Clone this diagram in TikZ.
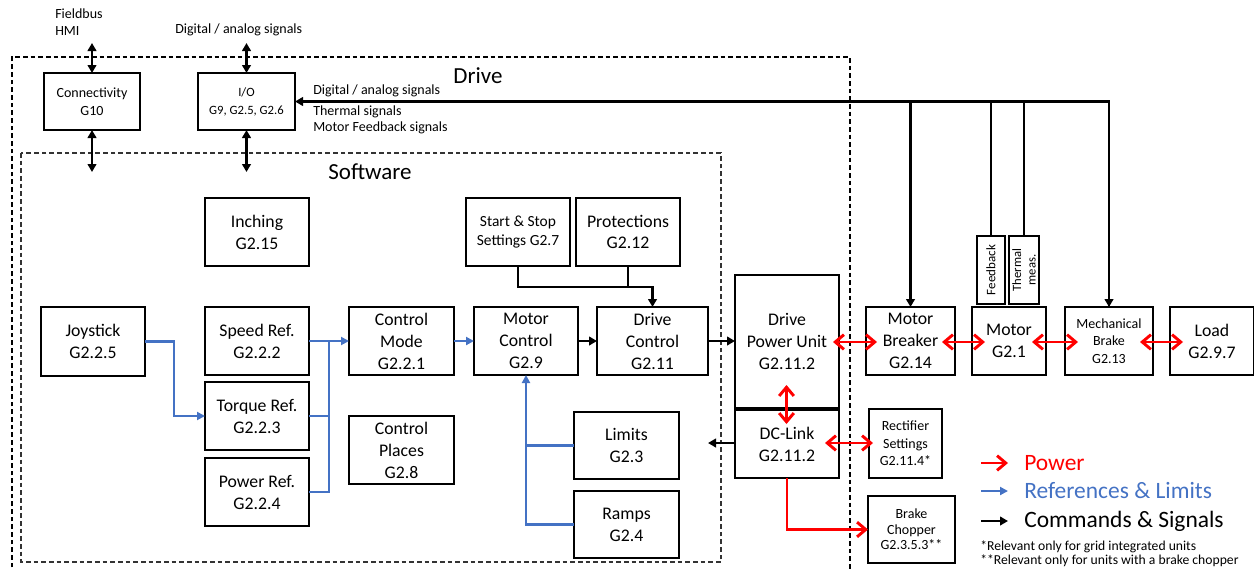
\documentclass[tikz,border=0pt]{standalone}
\usepackage{fontspec}
\setmainfont{Carlito}
\usetikzlibrary{arrows.meta,calc}
\definecolor{refblue}{HTML}{4472C4}
\newcommand\fsz[2]{\fontsize{#1}{#2}\selectfont}
% \bx{name}{x1}{y1}{x2}{y2}{options}{text}
\newcommand\bx[7]{%
  \pgfmathsetmacro\bxw{(#4-#2)*0.75}%
  \pgfmathsetmacro\bxh{(#5-#3)*0.75}%
  \node[box,#6,minimum width=\bxw pt,minimum height=\bxh pt] (#1) at ({(#2+#4)/2},{(#3+#5)/2}) {#7};}
\tikzset{
  rb/.tip={Straight Barb[length=6.5pt,width=11pt]},
  bt/.tip={Triangle[length=6pt,width=6.5pt]},
  blt/.tip={Triangle[length=6pt,width=6pt]},
  box/.style={draw, line width=0.9pt, inner sep=0pt, outer sep=0pt, align=center, font=\fsz{13.3}{16.5}},
  smallbox/.style={box, font=\fsz{10.5}{13.5}},
  dashbox/.style={line width=0.8pt, dash pattern=on 3.5pt off 2.25pt},
  pow/.style={draw=red, line width=2.2pt},
  refl/.style={draw=refblue, line width=1.9pt},
  cmd/.style={draw=black, line width=2.2pt},
  cmdthin/.style={draw=black, line width=1.9pt},
  lbl/.style={inner sep=0pt, anchor=west, font=\fsz{10.5}{13.5}},
  title/.style={inner sep=0pt, font=\fsz{17.25}{20}},
  legend/.style={inner sep=0pt, anchor=west, font=\fsz{17.6}{20}},
}
\begin{document}
\begin{tikzpicture}[x=0.75pt,y=-0.75pt]
\useasboundingbox (0,0) rectangle (1254,569);

% containers
\draw[dashbox] (12,575) -- (12,57) -- (850,57) -- (850,575);
\draw[dashbox, black!80] (21,153) rectangle (721,562);
\node[title] (tdrive) at (478,76) {Drive};
\node[title] (tsoft) at (370,172) {Software};

% top labels
\node[lbl] (tfield) at (55,14) {Fieldbus};
\node[lbl] (thmi) at (55,31) {HMI};
\node[lbl] (tdig) at (175,30) {Digital / analog signals};

% boxes
\bx{conn}{44}{73}{140}{130}{smallbox}{Connectivity\\G10}
\bx{io}{198}{73}{295}{130}{smallbox, font=\fsz{9.5}{13.5}}{I/O\\G9, G2.5, G2.6}
\bx{inch}{205}{198}{309}{266}{}{Inching\\G2.15}
\bx{ss}{466}{198}{570}{266}{font=\fsz{11.6}{14.25}}{Start \& Stop\\Settings G2.7}
\bx{prot}{576}{198}{680}{266}{font=\fsz{13.3}{15.75}}{Protections\\G2.12}
\bx{joy}{41}{307}{145}{376}{}{Joystick\\G2.2.5}
\bx{speed}{205}{307}{309}{375}{}{Speed Ref.\\G2.2.2}
\bx{torque}{205}{382}{309}{450}{}{Torque Ref.\\G2.2.3}
\bx{power}{205}{458}{309}{526}{}{Power Ref.\\G2.2.4}
\bx{cmode}{349}{307}{454}{375}{}{Control\\Mode\\G2.2.1}
\bx{cplaces}{349}{416}{454}{484}{}{Control\\Places\\G2.8}
\bx{mc}{474}{307}{578}{375}{}{Motor\\Control\\G2.9}
\bx{dc}{597}{307}{708}{375}{}{Drive\\Control\\G2.11}
\bx{limits}{574}{412}{679}{479}{}{Limits\\G2.3}
\bx{ramps}{574}{491}{679}{558}{}{Ramps\\G2.4}
\bx{dpu}{735}{275}{839}{408}{}{Drive\\Power Unit\\G2.11.2}
\bx{dcl}{735}{410}{839}{478}{}{DC-Link\\G2.11.2}
\bx{rect}{869}{409}{942}{478}{smallbox, font=\fsz{10.5}{13}}{Rectifier\\Settings\\G2.11.4*}
\bx{chop}{868}{496}{955}{563}{smallbox, font=\fsz{10.5}{11.5}}{Brake\\Chopper\\G2.3.5.3**}
\bx{brk}{866}{307}{955}{375}{}{Motor\\Breaker\\G2.14}
\bx{motor}{972}{307}{1046}{375}{}{Motor\\G2.1}
\bx{fb}{977}{236}{1005}{304}{}{}
\node[rotate=90, inner sep=0pt, font=\fsz{9.75}{11}] (fbt) at (fb.center) {Feedback};
\bx{th}{1009}{236}{1039}{304}{}{}
\node[rotate=90, inner sep=0pt, align=center, font=\fsz{9.5}{11}] (tht) at (th.center) {Thermal\\meas.};
\bx{mbrake}{1065}{307}{1153}{375}{smallbox, font=\fsz{10.5}{13}}{Mechanical\\Brake\\G2.13}
\bx{load}{1170}{307}{1254}{375}{}{Load\\G2.9.7}

% connectivity / io arrows
\coordinate (ctop) at (92,43);
\coordinate (cbot) at (92,172);
\coordinate (iotop) at (246.5,43);
\coordinate (iobot) at (246.5,172);
\draw[cmdthin, bt-bt] (ctop) -- (conn.north);
\draw[cmdthin, bt-bt] (conn.south) -- (cbot);
\draw[cmdthin, bt-bt] (iotop) -- (io.north);
\draw[cmdthin, bt-bt] (io.south) -- (iobot);

% signal bus
\coordinate (busR) at (1109,101.5);
\draw[cmd, -bt, line join=miter] (mbrake.north) -- (busR) -- (io.east);
\draw[cmd, -bt] (busR) -- (mbrake.north);
\draw[cmd, -bt] (brk.north |- busR) -- (brk.north);
\draw[cmd] (fb.north |- busR) -- (fb.north);
\draw[cmd] (th.north |- busR) -- (th.north);
\node[lbl] (bl1) at (313,91) {Digital / analog signals};
\node[lbl] (bl2) at (313,112) {Thermal signals};
\node[lbl] (bl3) at (313,128) {Motor Feedback signals};

% commands in software
\coordinate (jn) at (652.5,287);
\draw[cmd, -bt] (ss.south) |- (jn) -- (dc.north);
\draw[cmd] (prot.south) -- (prot.south |- jn);
\draw[cmd, -bt] (mc.east) -- (dc.west);
\draw[cmd, -bt] (dc.east) -- (dpu.west |- dc.east);
\coordinate (dclout) at (708,443);
\draw[cmd, -bt] (dcl.west |- dclout) -- (dclout);

% references
\coordinate (bj) at (329,341);
\draw[refl, -blt] (joy.east) -- ++(29,0) |- (torque.west);
\draw[refl] (torque.east) -| (bj);
\draw[refl] (power.east) -| (bj);
\draw[refl, -blt] (speed.east) -- (cmode.west);
\draw[refl, -blt] (cmode.east) -- (mc.west);
\draw[refl, -blt] (ramps.west) -| (mc.south);
\draw[refl] (limits.west) -- (limits.west -| mc.south);

% power
\draw[pow, rb-rb] ($(dpu.east)+(-6,0.5)$) -- ($(brk.west)+(11,1)$);
\draw[pow, rb-rb] ($(brk.east)+(-13,1)$) -- ($(motor.west)+(13,1)$);
\draw[pow, rb-rb] ($(motor.east)+(-14,1)$) -- ($(mbrake.west)+(13,1)$);
\draw[pow, rb-rb] ($(mbrake.east)+(-13,1)$) -- ($(load.west)+(13,1)$);
\draw[pow, rb-rb] ($(dpu.south)+(-0.5,-23)$) -- ($(dcl.north)+(-0.5,14)$);
\draw[pow, rb-rb] ($(dcl.east)+(-14,-1)$) -- ($(rect.west)+(4,-0.5)$);
\draw[pow, -rb] (dcl.south) |- (chop.west);

% legend
\coordinate (lp1) at (981,463);
\coordinate (lp2) at (1008,463);
\coordinate (lr1) at (981,491);
\coordinate (lr2) at (1008,491);
\coordinate (lc1) at (981,521);
\coordinate (lc2) at (1008,521);
\draw[pow, -rb] (lp1) -- (lp2);
\draw[refl, -blt] (lr1) -- (lr2);
\draw[cmdthin, -bt] (lc1) -- (lc2);
\node[legend, text=red] (lgp) at (1024,463) {Power};
\node[legend, text=refblue] (lgr) at (1024,491) {References \& Limits};
\node[legend] (lgc) at (1024,521) {Commands \& Signals};
\node[lbl, font=\fsz{10.25}{12}] (fn1) at (980,546.5) {*Relevant only for grid integrated units};
\node[lbl, font=\fsz{10.25}{12}] (fn2) at (980,561) {**Relevant only for units with a brake chopper};
\end{tikzpicture}
\end{document}
